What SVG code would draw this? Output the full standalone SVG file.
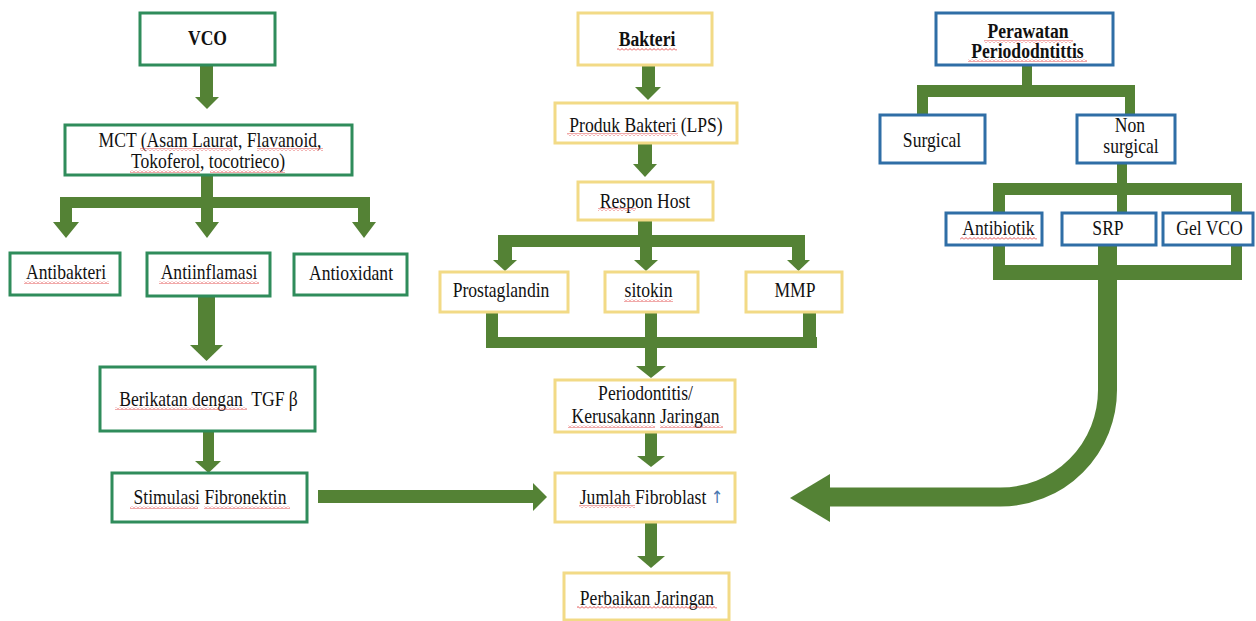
<svg xmlns="http://www.w3.org/2000/svg" width="1256" height="621" viewBox="0 0 1256 621">
<defs>
<pattern id="sq" width="4" height="3" patternUnits="userSpaceOnUse"><path d="M0,2.5 L2,0.5 L4,2.5" fill="none" stroke="#e04040" stroke-width="0.9"/></pattern>
</defs>
<style>
.bx rect{fill:#fff;stroke-width:3}
.g rect{stroke:#2f8c5b}
.y rect{stroke:#f2da86}
.b rect{stroke:#2f6ea6}
.bx rect.sq{fill:url(#sq);stroke:none}
text{font-family:'Liberation Serif','DejaVu Serif',serif;font-size:20px;fill:#111;text-anchor:middle;dominant-baseline:central}
.bold{font-weight:bold}
#connectors rect,#connectors polygon{fill:#548235}
</style>
<rect width="1256" height="621" fill="#fff"/>
<g id="connectors">
<rect x="200" y="65" width="13" height="33"/><polygon points="195,97 219,97 207,109"/>
<rect x="201" y="175" width="12" height="24"/><rect x="60" y="197" width="310" height="11"/>
<rect x="60" y="207" width="12" height="16"/><polygon points="53,222 79,222 66,238"/>
<rect x="201" y="207" width="12" height="16"/><polygon points="195,222 219,222 207,238"/>
<rect x="358" y="207" width="12" height="16"/><polygon points="352,222 376,222 364,238"/>
<rect x="198" y="297" width="17" height="49"/><polygon points="190,345 223,345 206.5,361"/>
<rect x="203" y="431" width="11" height="31"/><polygon points="195,461 221,461 208.5,473"/>
<rect x="318" y="490" width="216" height="13"/><polygon points="533,483 533,511 547,497"/>
<rect x="642" y="65" width="13" height="23"/><polygon points="635,87 661,87 648,100"/>
<rect x="638" y="143" width="14" height="22"/><polygon points="633,164 657,164 645,177"/>
<rect x="638" y="220" width="14" height="16"/><rect x="498" y="235" width="307" height="12"/>
<rect x="498" y="246" width="14" height="15"/><polygon points="493,260 517,260 505,271"/>
<rect x="640" y="246" width="12" height="15"/><polygon points="634,260 658,260 646,271"/>
<rect x="792" y="246" width="13" height="15"/><polygon points="787,260 810,260 798.5,271"/>
<rect x="486" y="313" width="12" height="25"/><rect x="645" y="313" width="12" height="25"/><rect x="803" y="313" width="13" height="25"/>
<rect x="486" y="337" width="331" height="11"/>
<rect x="645" y="347" width="12" height="20"/><polygon points="636,366 666,366 651,378"/>
<rect x="645" y="432" width="12" height="25"/><polygon points="637,456 665,456 651,467"/>
<rect x="645" y="522" width="12" height="35"/><polygon points="637,556 665,556 651,568"/>
<rect x="1022" y="65" width="10" height="22"/><rect x="917" y="85" width="218" height="12"/>
<rect x="917" y="96" width="11" height="19"/><rect x="1125" y="96" width="10" height="19"/>
<rect x="1117" y="163" width="10" height="22"/><rect x="993" y="183" width="249" height="12"/>
<rect x="993" y="194" width="12" height="19"/><rect x="1117" y="194" width="10" height="19"/><rect x="1231" y="194" width="11" height="19"/>
<rect x="993" y="245" width="12" height="22"/><rect x="1231" y="245" width="11" height="22"/>
<rect x="993" y="265" width="249" height="15"/>
<path d="M1107.5,245 V390 A107,107 0 0 1 1000.5,497 H828" fill="none" stroke="#548235" stroke-width="19"/>
<polygon points="830,474 830,522 790,498"/>
</g>
<g class="bx g">
<g id="vco"><rect x="140" y="13" width="135" height="52"/><text class="bold" transform="matrix(0.88 0 0 1 207.5 38.5)">VCO</text></g>
<g id="mct"><rect x="65" y="125" width="287" height="50"/><text transform="matrix(0.88 0 0 1 210 140)">MCT (Asam Laurat, Flavanoid,</text><text transform="matrix(0.88 0 0 1 208 161.5)">Tokoferol, tocotrieco)</text>
<rect class="sq" x="140" y="148" width="93" height="3"/><rect class="sq" x="257" y="148" width="66" height="3"/><rect class="sq" x="130" y="170" width="70" height="3"/><rect class="sq" x="210" y="170" width="75" height="3"/></g>
<g id="antibakteri"><rect x="10" y="253" width="110" height="42"/><text transform="matrix(0.88 0 0 1 66 272)">Antibakteri</text><rect class="sq" x="24" y="281" width="85" height="3"/></g>
<g id="antiinflamasi"><rect x="147" y="253" width="123" height="43"/><text transform="matrix(0.88 0 0 1 209 272)">Antiinflamasi</text><rect class="sq" x="159" y="281" width="100" height="3"/></g>
<g id="antioxidant"><rect x="294" y="254" width="113" height="41"/><text transform="matrix(0.88 0 0 1 351 273)">Antioxidant</text></g>
<g id="berikatan"><rect x="100" y="367" width="215" height="64"/><text transform="matrix(0.88 0 0 1 208.5 399.5)" xml:space="preserve">Berikatan dengan  TGF β</text><rect class="sq" x="115" y="407" width="132" height="3"/></g>
<g id="stimulasi"><rect x="112" y="473" width="195" height="49"/><text transform="matrix(0.88 0 0 1 210 497.5)">Stimulasi Fibronektin</text><rect class="sq" x="130" y="506" width="68" height="3"/><rect class="sq" x="204" y="506" width="86" height="3"/></g>
</g>
<g class="bx y">
<g id="bakteri"><rect x="578" y="13" width="134" height="52"/><text class="bold" transform="matrix(0.88 0 0 1 647 39.5)">Bakteri</text><rect class="sq" x="617" y="48" width="60" height="3"/></g>
<g id="produk"><rect x="555" y="103" width="182" height="40"/><text transform="matrix(0.88 0 0 1 646 125)">Produk Bakteri (LPS)</text><rect class="sq" x="567" y="133" width="111" height="3"/></g>
<g id="respon"><rect x="578" y="182" width="135" height="38"/><text transform="matrix(0.88 0 0 1 645 201.5)">Respon Host</text><rect class="sq" x="598" y="208" width="38" height="3"/></g>
<g id="prostaglandin"><rect x="440" y="272" width="128" height="40"/><text transform="matrix(0.88 0 0 1 501 290)">Prostaglandin</text></g>
<g id="sitokin"><rect x="605" y="272" width="93" height="40"/><text transform="matrix(0.88 0 0 1 648.5 290)">sitokin</text><rect class="sq" x="624" y="299" width="49" height="3"/></g>
<g id="mmp"><rect x="746" y="272" width="96" height="40"/><text transform="matrix(0.88 0 0 1 795 290)">MMP</text></g>
<g id="periodontitis"><rect x="555" y="380" width="180" height="52"/><text transform="matrix(0.88 0 0 1 645.5 393.5)">Periodontitis/</text><text transform="matrix(0.88 0 0 1 645.5 416.5)">Kerusakann Jaringan</text><rect class="sq" x="568" y="425" width="87" height="3"/><rect class="sq" x="660" y="425" width="63" height="3"/></g>
<g id="jumlah"><rect x="555" y="473" width="180" height="49"/><text transform="matrix(0.88 0 0 1 651.5 497)">Jumlah Fibroblast <tspan fill="#4a78b0" font-family="DejaVu Sans" font-size="17">↑</tspan></text><rect class="sq" x="579" y="505" width="56" height="3"/></g>
<g id="perbaikan"><rect x="564" y="573" width="165" height="47"/><text transform="matrix(0.88 0 0 1 647 598.5)">Perbaikan Jaringan</text><rect class="sq" x="577" y="606" width="140" height="3"/></g>
</g>
<g class="bx b">
<g id="perawatan"><rect x="936" y="13" width="177" height="52"/><text class="bold" transform="matrix(0.88 0 0 1 1028 31.5)">Perawatan</text><text class="bold" transform="matrix(0.88 0 0 1 1027.5 51.5)">Periododntittis</text><rect class="sq" x="984" y="40" width="89" height="3"/><rect class="sq" x="968" y="59" width="119" height="3"/></g>
<g id="surgical"><rect x="880" y="115" width="105" height="48"/><text transform="matrix(0.88 0 0 1 932 140.5)">Surgical</text></g>
<g id="nonsurgical"><rect x="1077" y="115" width="98" height="48"/><text transform="matrix(0.88 0 0 1 1130 125)">Non</text><text transform="matrix(0.88 0 0 1 1131 146)">surgical</text></g>
<g id="antibiotik"><rect x="946" y="213" width="96" height="32"/><text transform="matrix(0.88 0 0 1 998.5 228.5)">Antibiotik</text><rect class="sq" x="960" y="237" width="77" height="3"/></g>
<g id="srp"><rect x="1062" y="213" width="94" height="32"/><text transform="matrix(0.88 0 0 1 1108 228.5)">SRP</text></g>
<g id="gelvco"><rect x="1163" y="213" width="90" height="32"/><text transform="matrix(0.88 0 0 1 1209.5 228.5)">Gel VCO</text></g>
</g>
</svg>
